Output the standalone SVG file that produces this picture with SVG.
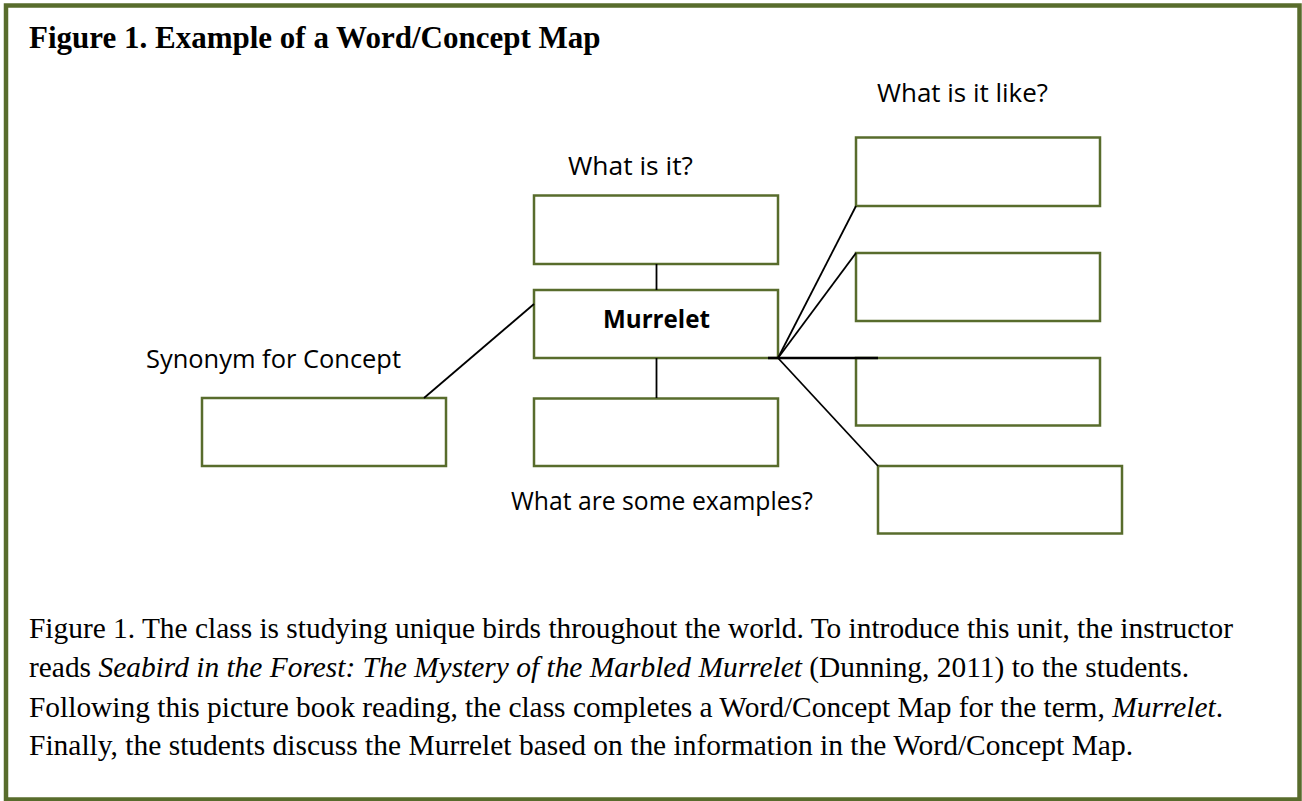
<svg xmlns="http://www.w3.org/2000/svg" width="1302" height="801" viewBox="0 0 1302 801">
<style>
.frame{fill:#ffffff;stroke:#586c2c;stroke-width:4.5}
.box{fill:#ffffff;stroke:#586c2c;stroke-width:2.5}
.conn{stroke:#000000;stroke-width:1.8;fill:none}
.hub{stroke:#000000;stroke-width:2.5;fill:none}
.lbl{font-family:"Open Sans","Liberation Sans",sans-serif;font-size:25px;fill:#000000}
.title{font-family:"Liberation Serif","Times New Roman",serif;font-size:31px;font-weight:bold;fill:#000000}
.cap{font-family:"Liberation Serif","Times New Roman",serif;font-size:29px;fill:#000000}
</style>
<rect class="frame" x="6" y="5.5" width="1293.5" height="794"/>
<text class="title" x="29" y="47.5">Figure 1. Example of a Word/Concept Map</text>

<g id="node-what-is-it">
<rect class="box" x="534" y="195.5" width="244" height="68.5"/>
<text class="lbl" x="568" y="175" textLength="125" lengthAdjust="spacingAndGlyphs">What is it?</text>
</g>
<g id="node-murrelet">
<rect class="box" x="534" y="290" width="244" height="68"/>
<text class="lbl" x="603" y="327.5" font-weight="bold" textLength="107" lengthAdjust="spacingAndGlyphs">Murrelet</text>
</g>
<g id="node-examples">
<rect class="box" x="534" y="398.5" width="244" height="67.5"/>
<text class="lbl" x="511" y="510" textLength="302" lengthAdjust="spacingAndGlyphs">What are some examples?</text>
</g>
<g id="node-synonym">
<rect class="box" x="202" y="398" width="244" height="68"/>
<text class="lbl" x="146" y="368" textLength="255" lengthAdjust="spacingAndGlyphs">Synonym for Concept</text>
</g>
<g id="node-like-1">
<rect class="box" x="856" y="137.5" width="244" height="68.5"/>
<text class="lbl" x="877" y="101.5" textLength="171" lengthAdjust="spacingAndGlyphs">What is it like?</text>
</g>
<g id="node-like-2">
<rect class="box" x="856" y="253" width="244" height="68"/>
</g>
<g id="node-like-3">
<rect class="box" x="856" y="358" width="244" height="67.5"/>
</g>
<g id="node-like-4">
<rect class="box" x="878" y="466" width="244" height="67.5"/>
</g>

<g id="connectors">
<line class="conn" x1="656.5" y1="264" x2="656.5" y2="290"/>
<line class="conn" x1="656.5" y1="358" x2="656.5" y2="398"/>
<line class="conn" x1="424" y1="398" x2="534" y2="304"/>
<line class="conn" x1="778" y1="358" x2="856" y2="206"/>
<line class="conn" x1="778" y1="358" x2="856" y2="253"/>
<line class="conn" x1="778" y1="358" x2="878" y2="466"/>
<line class="hub" x1="768" y1="358" x2="878" y2="358"/>
</g>

<text class="cap" x="29" y="638" textLength="1204" lengthAdjust="spacingAndGlyphs">Figure 1. The class is studying unique birds throughout the world. To introduce this unit, the instructor</text>
<text class="cap" x="29" y="677" textLength="1160" lengthAdjust="spacingAndGlyphs">reads <tspan font-style="italic">Seabird in the Forest: The Mystery of the Marbled Murrelet</tspan> (Dunning, 2011) to the students.</text>
<text class="cap" x="29" y="716.5" textLength="1194" lengthAdjust="spacingAndGlyphs">Following this picture book reading, the class completes a Word/Concept Map for the term, <tspan font-style="italic">Murrelet</tspan>.</text>
<text class="cap" x="29" y="755" textLength="1104" lengthAdjust="spacingAndGlyphs">Finally, the students discuss the Murrelet based on the information in the Word/Concept Map.</text>
</svg>
